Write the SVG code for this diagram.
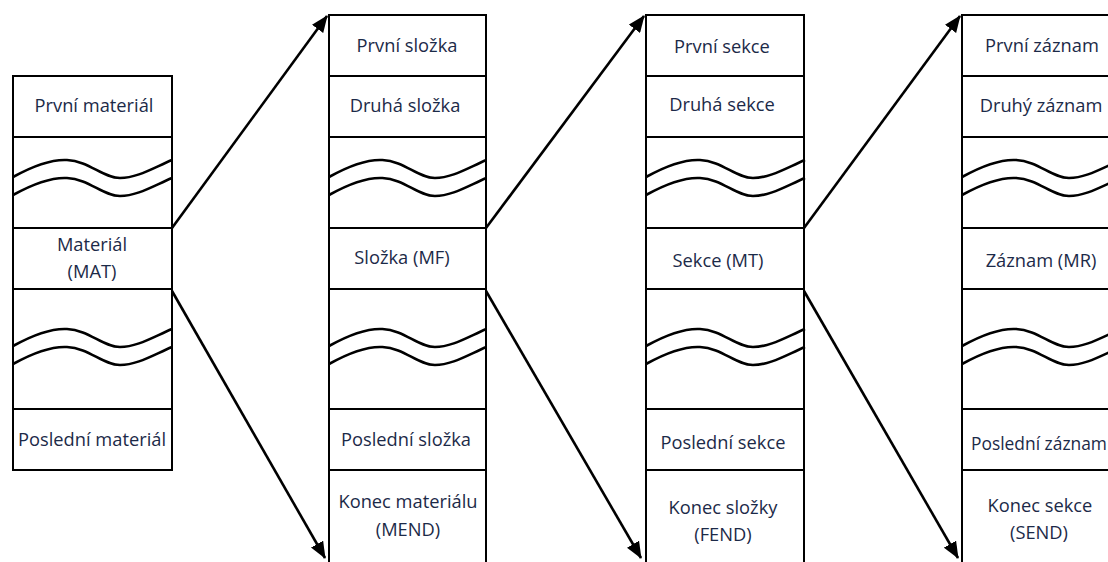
<svg xmlns="http://www.w3.org/2000/svg" xmlns:xlink="http://www.w3.org/1999/xlink" width="1108" height="562" viewBox="0 0 1108 562">
<style>
.cell{fill:#fff;stroke:#000;stroke-width:2}
.wave{fill:none;stroke:#000;stroke-width:2.6}
.t{font-family:"Open Sans","Noto Sans",sans-serif;font-size:18.3px;fill:#1c2a48;text-anchor:middle}
.arrow{stroke:#000;stroke-width:2.6;fill:none;marker-end:url(#ah)}
</style>
<defs>
<marker id="ah" markerUnits="userSpaceOnUse" markerWidth="18" markerHeight="14" refX="16" refY="7" orient="auto">
<path d="M0,0 L17,7 L0,14 z" fill="#000"/>
</marker>
<g id="wv">
<path class="wave" d="M0,40 C18,30 36,22 54,23 C76,24 90,41 107,41 C124,41 140,31 159,23"/>
<path class="wave" d="M0,58 C18,48 36,40 54,41 C76,42 90,59 107,59 C124,59 140,49 159,41"/>
</g>
</defs>
<rect width="1108" height="562" fill="#fff"/>

<g id="col1">
<rect class="cell" x="13" y="76" width="159" height="61"/>
<rect class="cell" x="13" y="137" width="159" height="91"/>
<rect class="cell" x="13" y="228" width="159" height="61"/>
<rect class="cell" x="13" y="289" width="159" height="120"/>
<rect class="cell" x="13" y="409" width="159" height="61"/>
<use xlink:href="#wv" transform="translate(13,137)"/>
<use xlink:href="#wv" transform="translate(13,306)"/>
<text class="t" x="94" y="112">První materiál</text>
<text class="t" x="92" y="251">Materiál</text>
<text class="t" x="92" y="278">(MAT)</text>
<text class="t" x="92" y="446">Poslední materiál</text>
</g>

<g id="col2">
<rect class="cell" x="329" y="15" width="157" height="61"/>
<rect class="cell" x="329" y="76" width="157" height="61"/>
<rect class="cell" x="329" y="137" width="157" height="91"/>
<rect class="cell" x="329" y="228" width="157" height="61"/>
<rect class="cell" x="329" y="289" width="157" height="120"/>
<rect class="cell" x="329" y="409" width="157" height="61"/>
<rect class="cell" x="329" y="470" width="157" height="100"/>
<use xlink:href="#wv" transform="translate(329,137) scale(0.99,1)"/>
<use xlink:href="#wv" transform="translate(329,306) scale(0.99,1)"/>
<text class="t" x="407" y="52">První složka</text>
<text class="t" x="405" y="112">Druhá složka</text>
<text class="t" x="402" y="264">Složka (MF)</text>
<text class="t" x="406" y="446">Poslední složka</text>
<text class="t" x="408" y="508">Konec materiálu</text>
<text class="t" x="408" y="536">(MEND)</text>
</g>

<g id="col3">
<rect class="cell" x="646" y="15" width="158" height="61"/>
<rect class="cell" x="646" y="76" width="158" height="61"/>
<rect class="cell" x="646" y="137" width="158" height="91"/>
<rect class="cell" x="646" y="228" width="158" height="61"/>
<rect class="cell" x="646" y="289" width="158" height="120"/>
<rect class="cell" x="646" y="409" width="158" height="61"/>
<rect class="cell" x="646" y="470" width="158" height="100"/>
<use xlink:href="#wv" transform="translate(646,137)"/>
<use xlink:href="#wv" transform="translate(646,306)"/>
<text class="t" x="722" y="53">První sekce</text>
<text class="t" x="722" y="111">Druhá sekce</text>
<text class="t" x="718" y="267">Sekce (MT)</text>
<text class="t" x="723" y="449">Poslední sekce</text>
<text class="t" x="723" y="514">Konec složky</text>
<text class="t" x="723" y="541">(FEND)</text>
</g>

<g id="col4">
<rect class="cell" x="962" y="15" width="160" height="61"/>
<rect class="cell" x="962" y="76" width="160" height="61"/>
<rect class="cell" x="962" y="137" width="160" height="91"/>
<rect class="cell" x="962" y="228" width="160" height="61"/>
<rect class="cell" x="962" y="289" width="160" height="120"/>
<rect class="cell" x="962" y="409" width="160" height="61"/>
<rect class="cell" x="962" y="470" width="160" height="100"/>
<use xlink:href="#wv" transform="translate(962,137)"/>
<use xlink:href="#wv" transform="translate(962,306)"/>
<text class="t" x="1042" y="52">První záznam</text>
<text class="t" x="1041" y="112">Druhý záznam</text>
<text class="t" x="1041" y="267">Záznam (MR)</text>
<text class="t" x="1039" y="450" style="font-size:17.4px">Poslední záznam</text>
<text class="t" x="1040" y="512">Konec sekce</text>
<text class="t" x="1039" y="539">(SEND)</text>
</g>

<g id="connectors">
<line class="arrow" x1="172" y1="228" x2="327" y2="16"/>
<line class="arrow" x1="172" y1="291" x2="325" y2="558"/>
<line class="arrow" x1="486" y1="228" x2="644" y2="16"/>
<line class="arrow" x1="486" y1="291" x2="641" y2="558"/>
<line class="arrow" x1="804" y1="228" x2="960" y2="16"/>
<line class="arrow" x1="804" y1="291" x2="958" y2="558"/>
</g>
</svg>
